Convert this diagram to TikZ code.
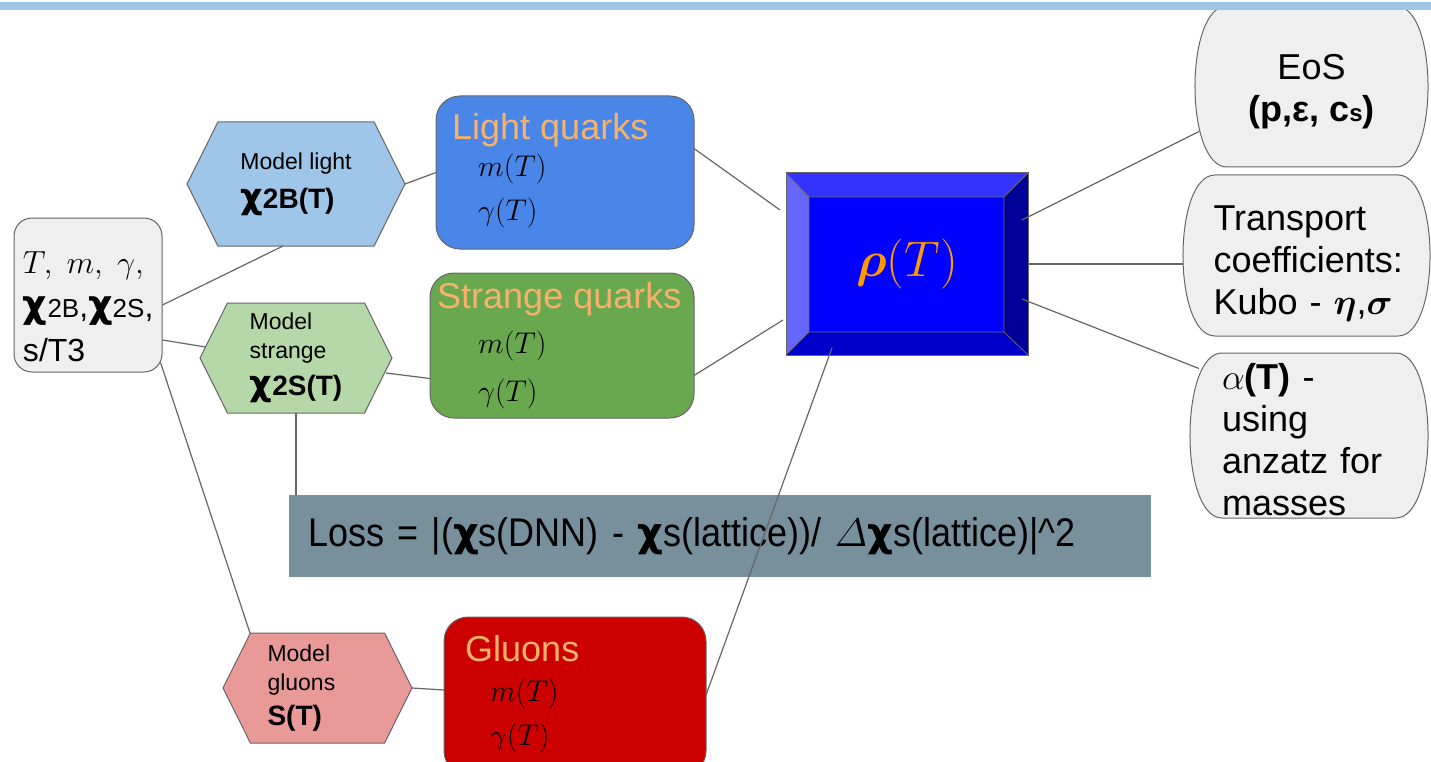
\RequirePackage{fix-cm}
\documentclass[tikz,border=0pt]{standalone}
\usepackage{amsmath}
\usepackage[no-math]{fontspec}
\setmainfont{Liberation Sans}
\newfontfamily\chifont{DejaVu Sans}
\newfontfamily\narrowfont[FakeStretch=0.9]{Liberation Sans}
\usetikzlibrary{positioning, calc, shapes.symbols, backgrounds}
\definecolor{bandblue}{HTML}{9FC5E8}
\definecolor{hexlight}{HTML}{9FC5E8}
\definecolor{hexstrange}{HTML}{B6D7A8}
\definecolor{hexgluon}{HTML}{EA9999}
\definecolor{lightq}{HTML}{4A86E8}
\definecolor{strangeq}{HTML}{6AA84F}
\definecolor{gluonq}{HTML}{CC0000}
\definecolor{titleorange}{HTML}{F6B26B}
\definecolor{rhoorange}{HTML}{FF9900}
\definecolor{lossgray}{HTML}{78909C}
\definecolor{linegray}{HTML}{666666}
\definecolor{boxgray}{HTML}{EFEFEF}
\definecolor{bevtop}{HTML}{3333FF}
\definecolor{bevleft}{HTML}{6666FF}
\definecolor{bevright}{HTML}{000099}
\definecolor{bevbot}{HTML}{0000CC}
\newcommand{\chib}[1]{{\chifont\bfseries\fontsize{35}{35}\selectfont χ}{\bfseries\fontsize{28}{34}\selectfont #1}}
\newcommand{\chin}[1]{{\chifont\bfseries\fontsize{38}{38}\selectfont χ}{\fontsize{26}{36}\selectfont #1}}
% outline of an output bubble, drawn round a node
\newcommand{\bubbleline}[1]{%
  \filldraw[draw=linegray, line width=1pt, fill=boxgray]
    ($(#1.north west)+(32,0)$) -- ($(#1.north east)+(-32,0)$)
    .. controls ($(#1.north east)+(10.7,0)$) and ($(#1.south east)+(10.7,0)$) .. ($(#1.south east)+(-32,0)$)
    -- ($(#1.south west)+(32,0)$)
    .. controls ($(#1.south west)+(-10.7,0)$) and ($(#1.north west)+(-10.7,0)$) .. ($(#1.north west)+(32,0)$) -- cycle;}
\tikzset{
  link/.style={draw=linegray, line width=1.2pt},
  hexa/.style={signal, signal to=west and east, signal pointer angle=127, draw=linegray, line width=1pt,
    inner sep=0pt, outer sep=0pt, align=left, font=\fontsize{23}{29}\selectfont},
  qbox/.style={draw=linegray, line width=1pt, rounded corners=24pt, inner sep=0pt, outer sep=0pt},
  qtitle/.style={text=titleorange, font=\fontsize{36}{40}\selectfont, inner sep=0pt, anchor=base west},
  qvars/.style={align=left, font=\fontsize{30}{44}\selectfont, inner sep=0pt, anchor=base west},
  bubble/.style={inner sep=0pt, outer sep=0pt, align=left, font=\fontsize{36}{42}\selectfont}
}
\begin{document}
\begin{tikzpicture}[x=1pt, y=-1pt]
    \useasboundingbox (0,0) rectangle (1431,762);

    % Inputs
    \node[draw=linegray, line width=1pt, fill=boxgray, rounded corners=18pt, minimum width=148pt, minimum height=154pt,
      text width=130pt, align=left, inner sep=0pt, font=\fontsize{32}{44}\selectfont] (inp) at (88,295)
      {\rule{0pt}{46pt}$T,\; m,\; \gamma,$\\\chin{2B},\chin{2S},\\s/T3};

    % Models
    \node[hexa, fill=hexlight, minimum width=218pt, minimum height=124pt] (hexL) at (296,184)
      {Model light\\[10pt]\chib{2B(T)}};
    \node[hexa, fill=hexstrange, minimum width=192pt, minimum height=110pt] (hexS) at (296,358)
      {Model\\strange\\[8pt]\chib{2S(T)}};
    \node[hexa, fill=hexgluon, minimum width=189pt, minimum height=110pt, text width=100pt] (hexG) at (317.5,688)
      {Model\\gluons\\[6pt]{\bfseries\fontsize{28}{34}\selectfont S(T)}};

    % Quarks and gluons
    \node[qbox, fill=lightq, minimum width=258pt, minimum height=153pt] (lq) at (565,172.5) {};
    \node[qtitle] (lqT) at ($(lq.north west)+(16,44)$) {Light quarks};
    \node[qvars] (lqV) at ($(lq.north west)+(42,124)$) {$m(T)$\\$\gamma(T)$};

    \node[qbox, fill=strangeq, minimum width=264pt, minimum height=145pt] (sq) at (562,345.5) {};
    \node[qtitle] (sqT) at ($(sq.north west)+(7,35)$) {Strange quarks};
    \node[qvars] (sqV) at ($(sq.north west)+(48,128)$) {$m(T)$\\[4pt]$\gamma(T)$};

    \node[qbox, fill=gluonq, minimum width=262pt, minimum height=158pt] (gq) at (575,696) {};
    \node[qtitle] (gqT) at ($(gq.north west)+(21,44)$) {Gluons};
    \node[qvars] (gqV) at ($(gq.north west)+(46,128)$) {$m(T)$\\$\gamma(T)$};

    % Spectral function
    \node[draw=linegray, line width=1pt, fill=blue, minimum width=242pt, minimum height=182pt, inner sep=0pt, outer sep=0pt,
      text=rhoorange, font=\fontsize{50}{50}\selectfont] (rho) at (907,264) {$\boldsymbol{\rho}(T)$};
    \fill[bevtop] (rho.north west) -- (rho.north east) -- ($(rho.north east)+(-24,24)$) -- ($(rho.north west)+(23,24)$) -- cycle;
    \fill[bevleft] (rho.north west) -- ($(rho.north west)+(23,24)$) -- ($(rho.south west)+(23,-23)$) -- (rho.south west) -- cycle;
    \fill[bevright] (rho.north east) -- (rho.south east) -- ($(rho.south east)+(-24,-23)$) -- ($(rho.north east)+(-24,24)$) -- cycle;
    \fill[bevbot] (rho.south west) -- ($(rho.south west)+(23,-23)$) -- ($(rho.south east)+(-24,-23)$) -- (rho.south east) -- cycle;
    \draw[linegray, line width=0.8pt] ($(rho.north west)+(23,24)$) rectangle ($(rho.south east)+(-24,-23)$)
      (rho.north west) -- ++(23,24) (rho.north east) -- ++(-24,24)
      (rho.south west) -- ++(23,-23) (rho.south east) -- ++(-24,-23);
    \draw[linegray, line width=1pt] (rho.north west) rectangle (rho.south east);

    % Loss
    \node[fill=lossgray, minimum width=862pt, minimum height=82pt, text width=824pt, align=left, inner sep=0pt,
      font=\narrowfont\fontsize{40}{44}\selectfont] (loss) at (720,536)
      {Loss = |({\chifont\bfseries χ}s(DNN) - {\chifont\bfseries χ}s(lattice))/ $\varDelta${\chifont\bfseries χ}s(lattice)|\textasciicircum 2};

    % Outputs
    \node[bubble, minimum width=233pt, minimum height=161pt, align=center] (eos) at (1311.5,86.5)
      {\rule{0pt}{36pt}EoS\\\textbf{(p,ε, c{\fontsize{24}{24}\selectfont s})}};
    \node[bubble, minimum width=247pt, minimum height=161pt, text width=186pt] (tc) at (1306.5,255.5)
      {\rule{0pt}{40pt}Transport\\coefficients:\\Kubo - $\boldsymbol{\eta}$,$\boldsymbol{\sigma}$};
    \node[bubble, minimum width=238pt, minimum height=165pt, text width=174pt] (al) at (1309,435.5)
      {\rule{0pt}{34pt}$\alpha$\textbf{(T)} -\\using\\anzatz for\\masses};
    \begin{scope}[on background layer]
      \bubbleline{eos}
      \bubbleline{tc}
      \bubbleline{al}
    \end{scope}

    % Links
    \draw[link] ($(inp.east)+(0,10)$) -- ($(hexL.south)+(-13,0)$);
    \draw[link] ($(inp.east)+(0,45)$) -- ($(hexS.west)+(5.6,-11)$);
    \draw[link] ($(inp.south east)+(-2,-10)$) -- ($(hexG.north)+(-67.5,0)$);
    \draw[link] (hexL.east) -- (lq.west);
    \draw[link] ($(hexS.east)+(-6,15)$) -- ($(sq.west)+(0,33)$);
    \draw[link] (hexG.east) -- ($(gq.west)+(0,-6)$);
    \draw[link] (hexS.south) -- (hexS.south |- loss.north);
    \draw[link] ($(lq.east)+(0,-24)$) -- ($(rho.west)+(-6,-54)$);
    \draw[link] ($(sq.east)+(0,30)$) -- ($(rho.west)+(-3,56)$);
    \draw[link] ($(gq.east)+(0,-1)$) -- ($(rho.south)+(-75,-7)$);
    \draw[link] ($(rho.east)+(-6,-44)$) -- ($(eos.west)+(4,45)$);
    \draw[link] (rho.east) -- (rho.east -| tc.west);
    \draw[link] ($(rho.east)+(-6,35)$) -- ($(al.west)+(9,-67)$);

    % Top band
    \fill[bandblue] (0,2) rectangle (1431,10);
\end{tikzpicture}
\end{document}
